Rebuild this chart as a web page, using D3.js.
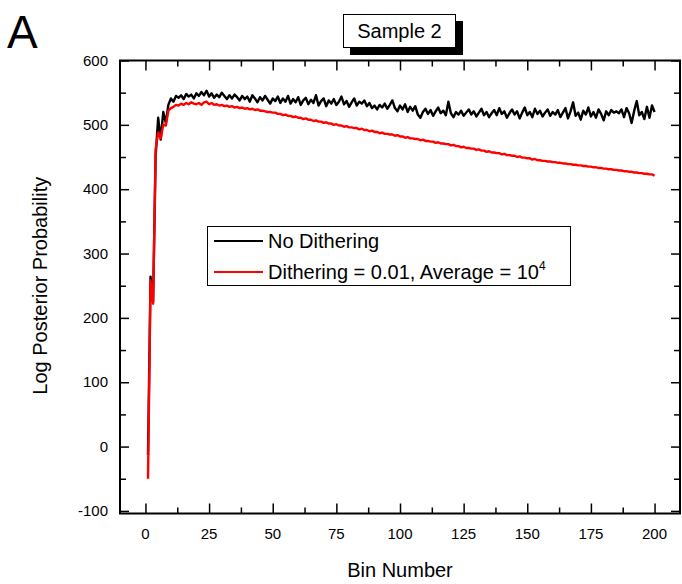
<!DOCTYPE html>
<html>
<head>
<meta charset="utf-8">
<script src="https://cdn.jsdelivr.net/npm/d3@7"></script>
<style>
body { margin: 0; background: white; }
text { font-family: "Liberation Sans", Arial, sans-serif; fill: black; }
</style>
</head>
<body>
<script>
const width = 682;
const height = 584;

// bin numbers 1..200
const bins = d3.range(1, 201);

const noDithering = [
    -13, 264, 225, 452, 511, 477, 520, 503, 531, 541,
    536, 545, 542, 546, 540, 548, 544, 547, 541, 549,
    545, 551, 546, 553, 544, 549, 542, 547, 543, 550,
    545, 540, 546, 541, 547, 543, 538, 545, 540, 544,
    536, 546, 541, 535, 543, 538, 545, 539, 533, 541,
    537, 544, 534, 541, 536, 545, 533, 540, 535, 543,
    531, 538, 542, 532, 539, 534, 546, 530, 537, 541,
    529, 538, 533, 540, 531, 536, 544, 532, 537, 528,
    535, 541, 530, 536, 533, 538, 529, 534, 526, 530,
    524, 531, 527, 533, 525, 531, 538, 526, 521, 530,
    524, 532, 520, 528, 522, 529, 516, 511, 520, 525,
    517, 523, 514, 521, 527, 518, 522, 515, 536, 518,
    512, 520, 516, 522, 514, 519, 524, 516, 521, 513,
    519, 525, 515, 520, 512, 518, 523, 515, 526, 517,
    521, 511, 518, 524, 516, 521, 510, 519, 527, 515,
    520, 512, 525, 517, 522, 513, 519, 524, 514, 520,
    516, 523, 512, 519, 526, 510, 521, 535, 514, 519,
    508, 522, 516, 527, 513, 520, 511, 524, 517, 507,
    521, 515, 523, 519, 521, 518, 524, 512, 526, 518,
    503, 522, 537, 515, 520, 509, 528, 511, 530, 520
];

const dithering = [
    -50, 258, 222, 462, 488, 479, 500, 499, 522, 526,
    528, 531, 530, 533, 531, 534, 532, 535, 533, 532,
    534, 531, 535, 536, 532, 534, 531, 532, 530, 531,
    529, 530, 528, 529, 527, 528, 526, 527, 525, 526,
    524, 525, 523, 524, 522, 522, 521, 520, 520, 519,
    519, 517, 517, 515, 516, 514, 514, 512, 513, 511,
    511, 509, 510, 508, 508, 506, 507, 505, 505, 503,
    504, 502, 502, 500, 501, 499, 499, 497, 498, 496,
    496, 495, 495, 493, 494, 492, 492, 490, 491, 489,
    489, 487, 488, 486, 486, 485, 485, 483, 484, 482,
    482, 480, 481, 479, 479, 478, 478, 476, 477, 475,
    475, 474, 474, 472, 473, 471, 471, 470, 470, 468,
    469, 467, 467, 465, 466, 464, 464, 463, 463, 461,
    462, 460, 460, 458, 459, 457, 457, 456, 456, 454,
    455, 453, 453, 452, 452, 450, 451, 449, 449, 448,
    448, 446, 447, 445, 445, 444, 444, 443, 443, 442,
    442, 441, 441, 440, 440, 439, 439, 438, 438, 437,
    437, 436, 436, 435, 435, 434, 434, 433, 433, 432,
    432, 431, 431, 430, 430, 429, 429, 428, 428, 427,
    427, 426, 426, 425, 425, 424, 424, 423, 423, 421
];

const xTicks = [0, 25, 50, 75, 100, 125, 150, 175, 200];
const xMinor = [12.5, 37.5, 62.5, 87.5, 112.5, 137.5, 162.5, 187.5];
const yTicks = [-100, 0, 100, 200, 300, 400, 500, 600];
const yMinor = [-50, 50, 150, 250, 350, 450, 550];

const plotLeft = 120, plotRight = 680, plotTop = 60.5, plotBottom = 513.5;

let svg = d3.select("body")
    .append("svg")
    .attr("width", width)
    .attr("height", height);

let x = d3.scaleLinear().domain([-10, 210]).range([plotLeft, plotRight]);
let y = d3.scaleLinear().domain([-104, 600]).range([plotBottom, plotTop]);

let plot = svg.append("g").attr("class", "plot");

// ticks on all four sides, pointing inwards
plot.append("g").attr("transform", "translate(0," + plotBottom + ")")
    .call(d3.axisBottom(x).tickValues(xTicks).tickSize(-10).tickFormat(""));
plot.append("g").attr("transform", "translate(0," + plotBottom + ")")
    .call(d3.axisBottom(x).tickValues(xMinor).tickSize(-6).tickFormat(""));
plot.append("g").attr("transform", "translate(0," + plotTop + ")")
    .call(d3.axisTop(x).tickValues(xTicks).tickSize(-10).tickFormat(""));
plot.append("g").attr("transform", "translate(0," + plotTop + ")")
    .call(d3.axisTop(x).tickValues(xMinor).tickSize(-6).tickFormat(""));

plot.append("g").attr("transform", "translate(" + plotLeft + ",0)")
    .call(d3.axisLeft(y).tickValues(yTicks).tickSize(-9).tickFormat(""));
plot.append("g").attr("transform", "translate(" + plotLeft + ",0)")
    .call(d3.axisLeft(y).tickValues(yMinor).tickSize(-6).tickFormat(""));
plot.append("g").attr("transform", "translate(" + plotRight + ",0)")
    .call(d3.axisRight(y).tickValues(yTicks).tickSize(-9).tickFormat(""));
plot.append("g").attr("transform", "translate(" + plotRight + ",0)")
    .call(d3.axisRight(y).tickValues(yMinor).tickSize(-6).tickFormat(""));

plot.selectAll(".domain").remove();
plot.selectAll(".tick line").attr("stroke", "black").attr("stroke-width", 1.5);

// tick labels
svg.append("g").selectAll("text")
    .data(xTicks)
    .enter()
    .append("text")
    .attr("x", d => x(d))
    .attr("y", 539)
    .attr("text-anchor", "middle")
    .style("font-size", "15px")
    .text(d => d);

svg.append("g").selectAll("text")
    .data(yTicks)
    .enter()
    .append("text")
    .attr("x", 108)
    .attr("y", d => y(d) + 5)
    .attr("text-anchor", "end")
    .style("font-size", "15px")
    .text(d => d);

// series
let line = d3.line()
    .x((d, i) => x(bins[i]))
    .y(d => y(d));

plot.append("path")
    .datum(noDithering)
    .attr("d", line)
    .attr("fill", "none")
    .attr("stroke", "black")
    .attr("stroke-width", 2.4)
    .attr("stroke-linejoin", "round");

plot.append("path")
    .datum(dithering)
    .attr("d", line)
    .attr("fill", "none")
    .attr("stroke", "#ff0000")
    .attr("stroke-width", 2.4)
    .attr("stroke-linejoin", "round");

// frame
svg.append("rect")
    .attr("x", plotLeft)
    .attr("y", plotTop)
    .attr("width", plotRight - plotLeft)
    .attr("height", plotBottom - plotTop)
    .attr("fill", "none")
    .attr("stroke", "black")
    .attr("stroke-width", 2);

// axis titles
svg.append("text")
    .attr("x", (x(0) + x(200)) / 2)
    .attr("y", 577)
    .attr("text-anchor", "middle")
    .style("font-size", "20px")
    .text("Bin Number");

svg.append("text")
    .attr("transform", "translate(47," + y(250) + ") rotate(-90)")
    .attr("text-anchor", "middle")
    .style("font-size", "20px")
    .text("Log Posterior Probability");

// panel letter
svg.append("text")
    .attr("x", 7)
    .attr("y", 48)
    .style("font-size", "46px")
    .text("A");

// title box with shadow
svg.append("rect")
    .attr("x", 350).attr("y", 21)
    .attr("width", 113).attr("height", 34)
    .attr("fill", "black");
svg.append("rect")
    .attr("x", 343.5).attr("y", 14.5)
    .attr("width", 112).attr("height", 33)
    .attr("fill", "white")
    .attr("stroke", "black")
    .attr("stroke-width", 1);
svg.append("text")
    .attr("x", 399.5)
    .attr("y", 38)
    .attr("text-anchor", "middle")
    .style("font-size", "20px")
    .text("Sample 2");

// legend
let legend = svg.append("g").attr("class", "legend");
legend.append("rect")
    .attr("x", 207.5).attr("y", 226.5)
    .attr("width", 363).attr("height", 59)
    .attr("fill", "white")
    .attr("stroke", "black")
    .attr("stroke-width", 1);

const legendItems = [
    {color: "black", y: 241},
    {color: "#ff0000", y: 272}
];

legend.selectAll("line")
    .data(legendItems)
    .enter()
    .append("line")
    .attr("x1", 214).attr("x2", 263)
    .attr("y1", d => d.y).attr("y2", d => d.y)
    .attr("stroke", d => d.color)
    .attr("stroke-width", 2);

legend.append("text")
    .attr("x", 268)
    .attr("y", 248)
    .style("font-size", "20px")
    .text("No Dithering");

let t2 = legend.append("text")
    .attr("x", 268)
    .attr("y", 279)
    .style("font-size", "20px");
t2.append("tspan").text("Dithering = 0.01, Average = 10");
t2.append("tspan")
    .attr("dy", -9)
    .style("font-size", "12px")
    .text("4");
</script>
</body>
</html>
